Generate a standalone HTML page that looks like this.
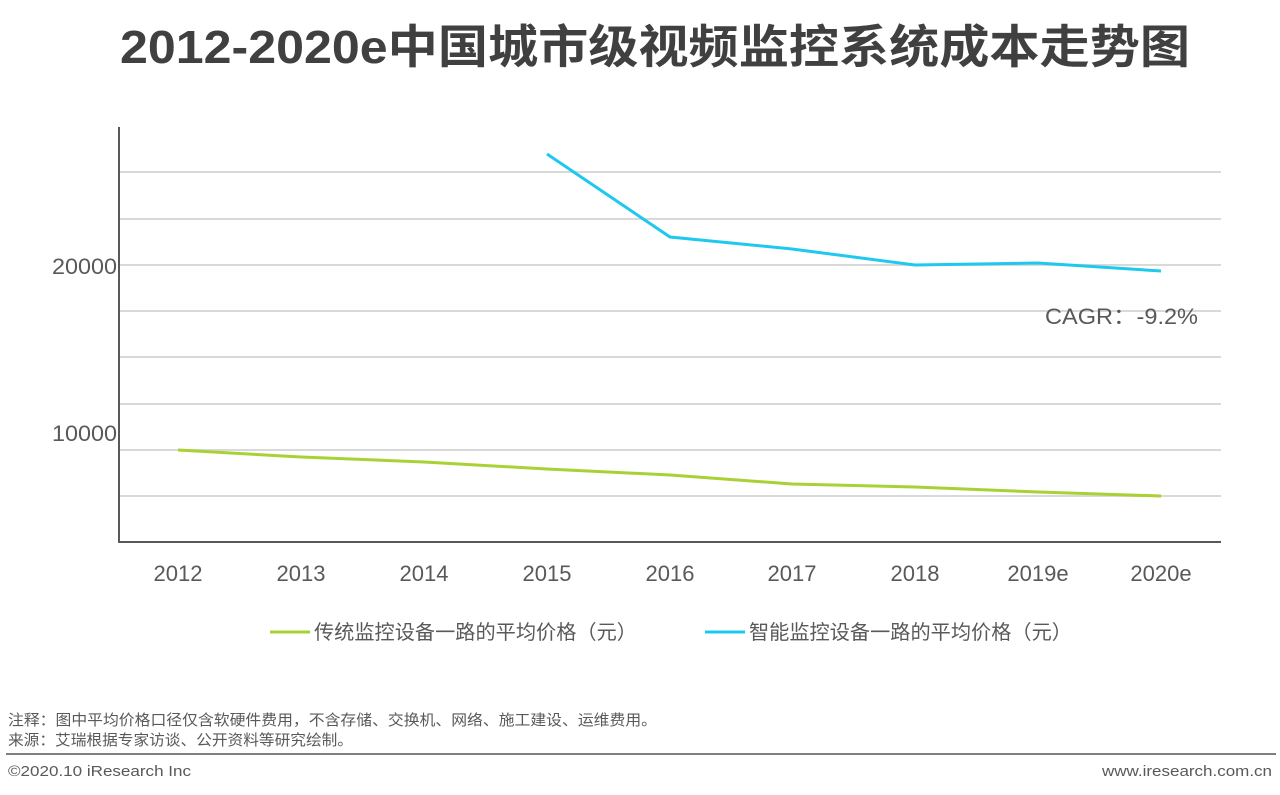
<!DOCTYPE html>
<html><head><meta charset="utf-8"><style>
body{margin:0;width:1280px;height:795px;background:#fff;overflow:hidden;font-family:"Liberation Sans","Noto Sans CJK SC",sans-serif;}
</style></head><body>
<svg width="1280" height="795" xmlns="http://www.w3.org/2000/svg" style="position:absolute;left:0;top:0">
<text x="120" y="63" font-size="46" font-weight="bold" fill="#404040" textLength="1070" lengthAdjust="spacingAndGlyphs" font-family="Liberation Sans,Noto Sans CJK SC,sans-serif">2012-2020e中国城市级视频监控系统成本走势图</text>
<g stroke="#d9d9d9" stroke-width="2">
<line x1="120" y1="172" x2="1221" y2="172"/><line x1="120" y1="219" x2="1221" y2="219"/>
<line x1="120" y1="265" x2="1221" y2="265"/><line x1="120" y1="311" x2="1221" y2="311"/>
<line x1="120" y1="357" x2="1221" y2="357"/><line x1="120" y1="404" x2="1221" y2="404"/>
<line x1="120" y1="450" x2="1221" y2="450"/><line x1="120" y1="496" x2="1221" y2="496"/>
</g>
<line x1="119" y1="127" x2="119" y2="543" stroke="#595959" stroke-width="2"/>
<line x1="118" y1="542" x2="1221" y2="542" stroke="#595959" stroke-width="2"/>
<g font-size="22" fill="#595959">
<text x="52" y="274" textLength="65" lengthAdjust="spacingAndGlyphs">20000</text><text x="52" y="441" textLength="65" lengthAdjust="spacingAndGlyphs">10000</text>
</g>
<g font-size="22" fill="#595959" text-anchor="middle">
<text x="178" y="581">2012</text><text x="301" y="581">2013</text><text x="424" y="581">2014</text>
<text x="547" y="581">2015</text><text x="670" y="581">2016</text><text x="792" y="581">2017</text>
<text x="915" y="581">2018</text><text x="1038" y="581">2019e</text><text x="1161" y="581">2020e</text>
</g>
<polyline fill="none" stroke="#a9d134" stroke-width="3" points="178,450 301,457 424,462 547,469 670,475 792,484 915,487 1038,492 1161,496"/>
<polyline fill="none" stroke="#1fc8ef" stroke-width="3" points="547,154 670,237 792,249 915,265 1038,263 1161,271"/>
<text x="1045" y="324" font-size="22" fill="#595959" textLength="153" lengthAdjust="spacingAndGlyphs">CAGR：-9.2%</text>
<line x1="270" y1="632" x2="310" y2="632" stroke="#a9d134" stroke-width="3"/>
<text x="314" y="639" font-size="20" fill="#595959" textLength="323" lengthAdjust="spacingAndGlyphs">传统监控设备一路的平均价格（元）</text>
<line x1="705" y1="632" x2="745" y2="632" stroke="#1fc8ef" stroke-width="3"/>
<text x="749" y="639" font-size="20" fill="#595959" textLength="323" lengthAdjust="spacingAndGlyphs">智能监控设备一路的平均价格（元）</text>
<text x="8" y="725" font-size="15" fill="#595959" textLength="649" lengthAdjust="spacingAndGlyphs">注释：图中平均价格口径仅含软硬件费用，不含存储、交换机、网络、施工建设、运维费用。</text>
<text x="8" y="745" font-size="15" fill="#595959" textLength="345" lengthAdjust="spacingAndGlyphs">来源：艾瑞根据专家访谈、公开资料等研究绘制。</text>
<line x1="6" y1="754" x2="1276" y2="754" stroke="#808080" stroke-width="2"/>
<text x="8" y="776" font-size="15" fill="#595959" textLength="183" lengthAdjust="spacingAndGlyphs">©2020.10 iResearch Inc</text>
<text x="1102" y="776" font-size="15" fill="#595959" textLength="170" lengthAdjust="spacingAndGlyphs">www.iresearch.com.cn</text>
</svg>
</body></html>
